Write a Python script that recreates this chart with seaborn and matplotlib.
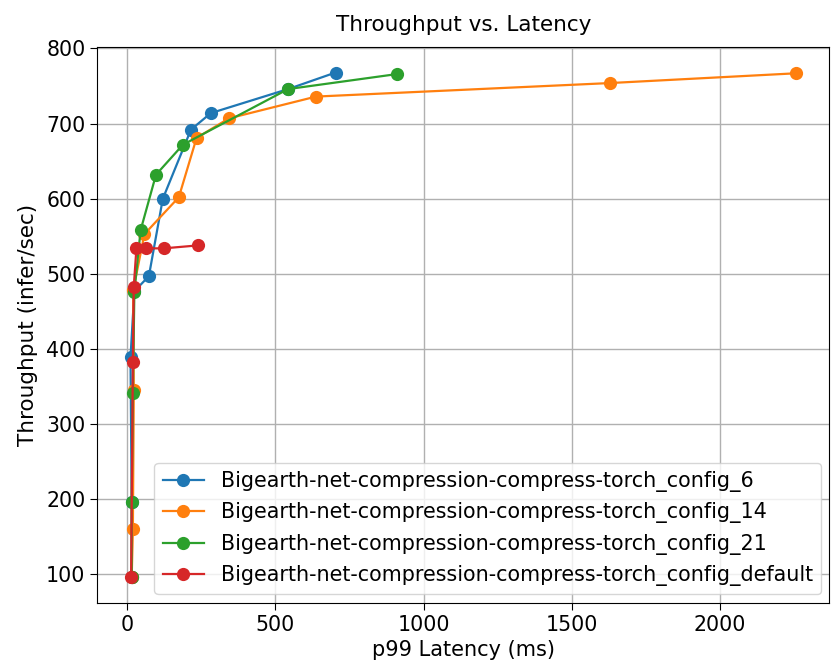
import pandas as pd
import matplotlib
matplotlib.use("Agg")
import matplotlib.pyplot as plt
import seaborn as sns

# valores (latencia p99 en ms, throughput en infer/sec)
lat_cfg6 = [15, 15, 11, 24, 73, 120, 215, 282, 543, 703]
thr_cfg6 = [96, 196, 389, 477, 497, 600, 692, 714, 746, 768]

lat_cfg14 = [15, 19, 22, 20, 58, 174, 234, 343, 637, 1629, 2257]
thr_cfg14 = [96, 160, 346, 478, 553, 602, 681, 707, 736, 754, 767]

lat_cfg21 = [15, 15, 19, 24, 45, 97, 188, 543, 911]
thr_cfg21 = [96, 196, 342, 476, 558, 632, 672, 746, 766]

lat_default = [13, 19, 22, 31, 63, 123, 240]
thr_default = [96, 383, 483, 534, 534, 534, 538]

nombres = [
    "Bigearth-net-compression-compress-torch_config_6",
    "Bigearth-net-compression-compress-torch_config_14",
    "Bigearth-net-compression-compress-torch_config_21",
    "Bigearth-net-compression-compress-torch_config_default",
]
latencias = [lat_cfg6, lat_cfg14, lat_cfg21, lat_default]
throughputs = [thr_cfg6, thr_cfg14, thr_cfg21, thr_default]

filas = []
for nombre, lat, thr in zip(nombres, latencias, throughputs):
    for l, t in zip(lat, thr):
        filas.append({"config": nombre, "latencia": l, "throughput": t})
datos = pd.DataFrame(filas)

fig = plt.figure(figsize=(8.31, 6.66), dpi=100)
ax = sns.lineplot(
    data=datos,
    x="latencia",
    y="throughput",
    hue="config",
    hue_order=nombres,
    palette="tab10",
    marker="o",
    markersize=9.5,
    markeredgewidth=0,
    sort=False,
    estimator=None,
    linewidth=1.6,
)

ax.grid(True, linewidth=1.0)
ax.set_title("Throughput vs. Latency", fontsize=15.5, pad=12)
ax.set_xlabel("p99 Latency (ms)", fontsize=15)
ax.set_ylabel("Throughput (infer/sec)", fontsize=15.5, labelpad=6)
ax.tick_params(labelsize=14.8, length=5)
ax.legend(loc="lower right", fontsize=14.9, title=None, borderaxespad=0.4)

plt.subplots_adjust(left=0.117, right=0.998, top=0.929, bottom=0.095)
plt.savefig("out.png", dpi=100)
